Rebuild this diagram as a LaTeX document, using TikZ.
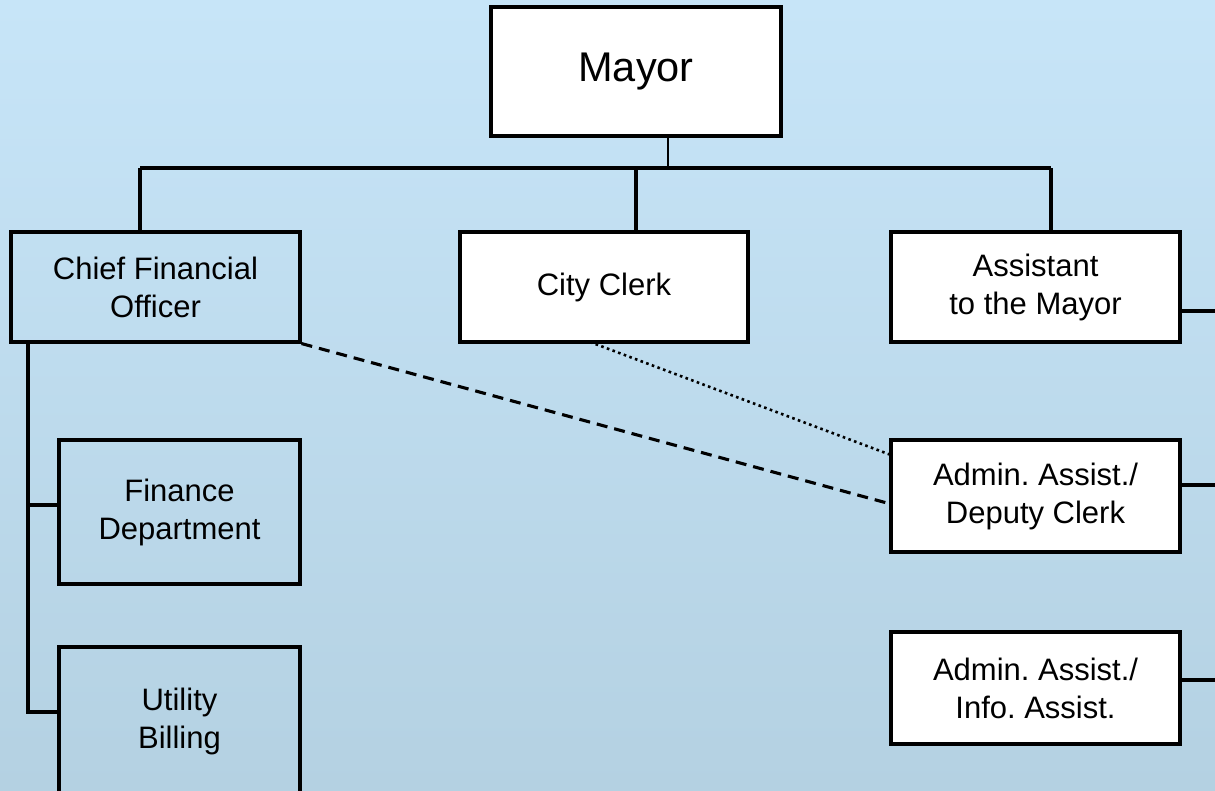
\documentclass[tikz,border=0pt]{standalone}
\usepackage{fontspec}
\setmainfont{Liberation Sans}
\frenchspacing
\begin{document}
\begin{tikzpicture}[x=1pt,y=-1pt,
  box/.style={draw=black,line width=3.1pt,rectangle,align=center,inner sep=0pt,
    font=\fontsize{31}{38}\selectfont},
  wbox/.style={box,fill=white},
  conn/.style={line width=3.1pt,draw=black},
]
\definecolor{bgtop}{RGB}{199,229,248}
\definecolor{bgbot}{RGB}{180,209,226}
\useasboundingbox (0,0) rectangle (1215,790);
\clip (0,0) rectangle (1215,790);
\shade[top color=bgtop,bottom color=bgbot] (0,0) rectangle (1215,790);

\node[wbox,minimum width=290,minimum height=129,font=\fontsize{41.5}{48}\selectfont] (mayor) at (636,71.5) {Mayor};
\node[box,minimum width=289,minimum height=110] (cfo) at (155.5,287) {Chief Financial\\Officer};
\node[wbox,minimum width=288,minimum height=110] (clerk) at (604,287) {City Clerk};
\node[wbox,minimum width=289,minimum height=110] (assist) at (1035.5,287) {Assistant\\to the Mayor};
\node[box,minimum width=241,minimum height=144] (fin) at (179.5,512) {Finance\\Department};
\node[box,minimum width=241,minimum height=148] (util) at (179.5,721) {Utility\\Billing};
\node[wbox,minimum width=289,minimum height=112] (deputy) at (1035.5,496) {Admin. Assist./\\Deputy Clerk};
\node[wbox,minimum width=289,minimum height=112] (info) at (1035.5,688) {Admin. Assist./\\Info. Assist.};

\coordinate (bm) at (668,168);
\coordinate (b1) at (140,168);
\coordinate (b2) at (636,168);
\coordinate (b3) at (1051,168);
\coordinate (t1) at (28,505);
\coordinate (t2) at (28,712);
\coordinate (r1) at (1220,311);
\coordinate (r2) at (1220,485);
\coordinate (r3) at (1220,680);
\coordinate (dEnd) at (887,503);
\coordinate (cStart) at (590,342);
\coordinate (pEnd) at (891,455);

\draw[conn,line width=2.6pt] (bm |- mayor.south) -- (bm);
\draw[conn] (b1) -- (b3);
\draw[conn] (b1) -- (b1 |- cfo.north);
\draw[conn] (b2) -- (b2 |- clerk.north);
\draw[conn] (b3) -- (b3 |- assist.north);
\draw[conn] (t1 |- cfo.south) -- (t2) -- (t2 -| util.west);
\draw[conn] (t1) -- (t1 -| fin.west);
\draw[conn] (r1 -| assist.east) -- (r1);
\draw[conn] (r2 -| deputy.east) -- (r2);
\draw[conn] (r3 -| info.east) -- (r3);
\draw[conn,dash pattern=on 11pt off 7pt] (cfo.south east) -- (dEnd);
\draw[conn,line width=2.6pt,dash pattern=on 2.6pt off 3.4pt] (cStart) -- (pEnd);
\end{tikzpicture}
\end{document}
